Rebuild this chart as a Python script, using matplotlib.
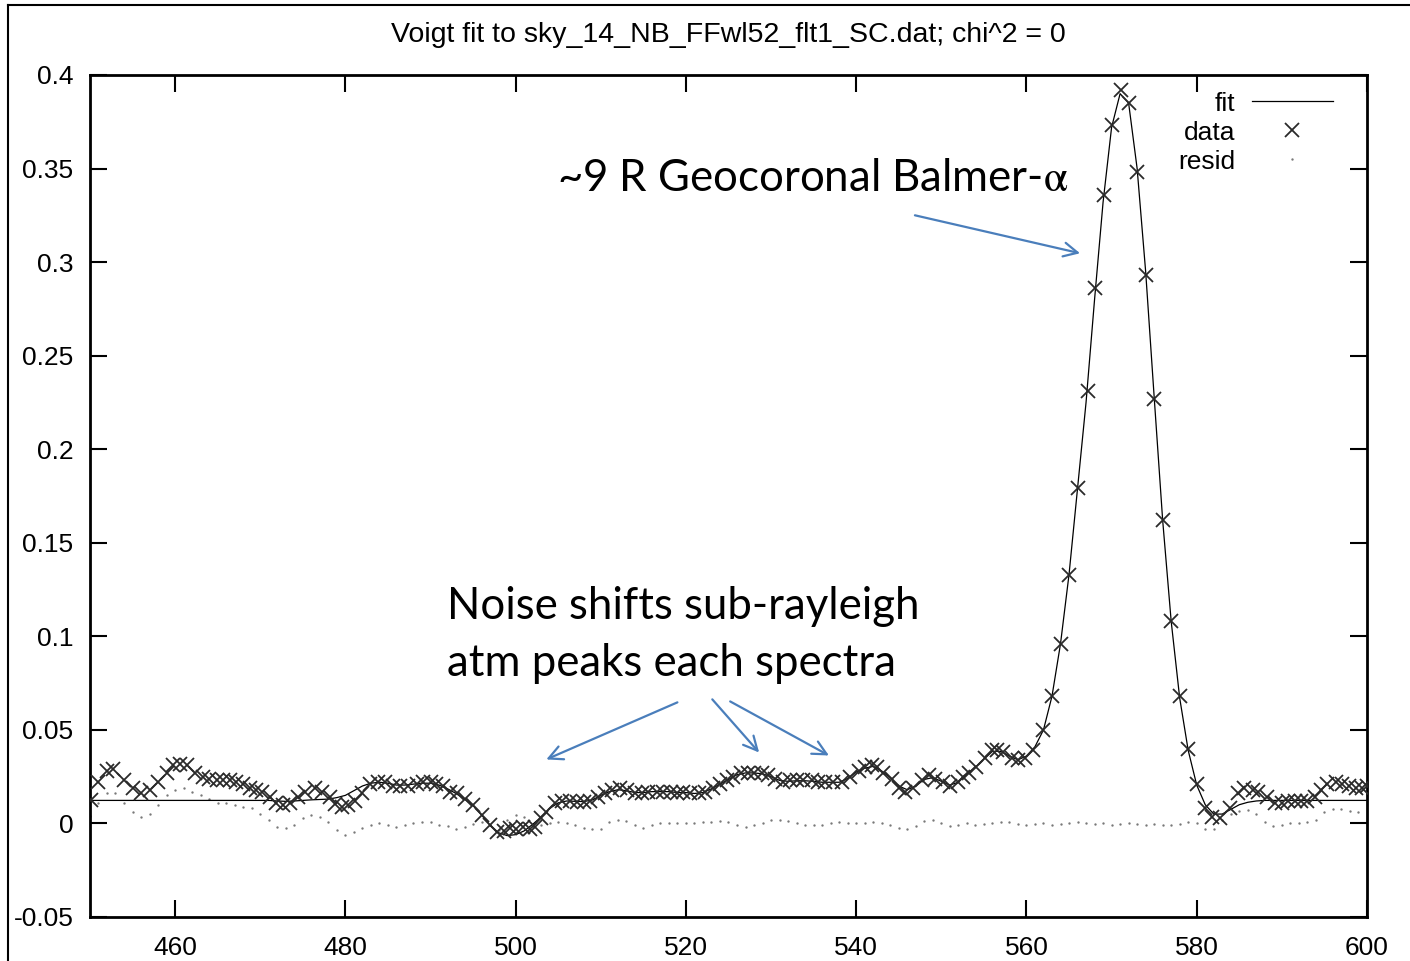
import numpy as np
import matplotlib
matplotlib.use('Agg')
import matplotlib.pyplot as plt
from matplotlib.lines import Line2D

plt.rcParams['font.family'] = ['Liberation Sans', 'DejaVu Sans']
plt.rcParams['mathtext.fontset'] = 'stix'

# measured spectrum (wavelength-ish channel, intensity)
data_x = [450.1, 451.0, 452.0, 452.7, 454.0, 455.0, 456.0, 457.0, 458.0, 459.0,
          459.8, 460.6, 461.4, 462.3, 463.3, 464.0, 464.9, 465.6, 466.4, 467.2,
          468.0, 468.8, 469.5, 470.2, 471.1, 471.9, 472.7, 473.5, 474.4, 475.3,
          476.4, 477.2, 478.2, 478.8, 479.6, 480.3, 481.1, 481.9, 482.9, 483.8,
          484.7, 485.6, 486.4, 487.4, 488.4, 489.1, 490.1, 490.7, 491.5, 492.3,
          493.1, 494.0, 495.0, 496.0, 497.0, 497.8, 498.6, 499.3, 500.1, 500.9,
          501.7, 502.3, 503.0, 503.6, 504.6, 505.4, 506.4, 507.2, 508.0, 508.7,
          509.7, 510.5, 511.3, 512.3, 513.1, 514.0, 514.8, 515.6, 516.6, 517.3,
          518.2, 518.9, 519.7, 520.5, 521.5, 522.3, 523.2, 524.0, 524.8, 525.5,
          526.5, 527.3, 528.0, 528.9, 529.6, 530.5, 531.4, 532.2, 533.0, 533.7,
          534.8, 535.5, 536.3, 537.3, 538.3, 539.3, 540.3, 541.0, 541.8, 542.4,
          543.2, 544.2, 545.0, 545.7, 546.7, 547.7, 548.5, 549.3, 550.2, 551.0,
          552.0, 552.6, 553.3, 554.1, 555.1, 555.9, 556.5, 557.3, 558.3, 559.0,
          559.8, 560.8, 562.0, 563.0, 564.0, 565.0, 566.0, 567.2, 568.1, 569.1,
          570.0, 571.1, 572.0, 573.0, 574.0, 575.0, 576.0, 577.0, 578.0, 579.0,
          580.0, 581.0, 581.8, 582.7, 583.9, 584.8, 585.6, 586.6, 587.2, 588.2,
          589.2, 590.0, 590.7, 591.5, 592.3, 593.0, 593.9, 594.6, 595.3, 596.4,
          597.1, 597.9, 598.7, 599.4, 600.0]
data_y = [0.0123, 0.022, 0.028, 0.029, 0.023, 0.019, 0.016, 0.018, 0.022, 0.027,
          0.031, 0.032, 0.031, 0.027, 0.025, 0.024, 0.023, 0.023, 0.023, 0.022,
          0.021, 0.019, 0.018, 0.017, 0.014, 0.011, 0.0096, 0.011, 0.014, 0.017,
          0.019, 0.017, 0.014, 0.0105, 0.0087, 0.0096, 0.012, 0.016, 0.021, 0.022,
          0.022, 0.020, 0.020, 0.020, 0.021, 0.022, 0.022, 0.021, 0.020, 0.017,
          0.016, 0.013, 0.0096, 0.0043, -0.001, -0.0047, -0.004, -0.0027, -0.003, -0.002,
          -0.003, -0.002, 0.0027, 0.006, 0.0107, 0.012, 0.012, 0.0114, 0.0114, 0.012,
          0.014, 0.016, 0.0176, 0.019, 0.0176, 0.016, 0.016, 0.017, 0.017, 0.017,
          0.017, 0.016, 0.017, 0.016, 0.016, 0.017, 0.019, 0.021, 0.023, 0.025,
          0.027, 0.027, 0.027, 0.027, 0.026, 0.024, 0.022, 0.023, 0.023, 0.023,
          0.023, 0.022, 0.022, 0.022, 0.022, 0.025, 0.028, 0.030, 0.031, 0.030,
          0.027, 0.024, 0.019, 0.017, 0.019, 0.023, 0.026, 0.024, 0.022, 0.020,
          0.022, 0.025, 0.027, 0.030, 0.035, 0.039, 0.039, 0.038, 0.035, 0.034,
          0.035, 0.039, 0.050, 0.068, 0.096, 0.133, 0.179, 0.231, 0.286, 0.336,
          0.373, 0.392, 0.385, 0.348, 0.293, 0.227, 0.162, 0.108, 0.068, 0.040,
          0.021, 0.008, 0.0034, 0.0027, 0.008, 0.016, 0.019, 0.0176, 0.017, 0.014,
          0.011, 0.011, 0.012, 0.012, 0.012, 0.012, 0.014, 0.0176, 0.021, 0.022,
          0.021, 0.020, 0.019, 0.019, 0.020]

# voigt fit curve
fit_x = list(range(450, 601))
fit_y = [0.0123] * 22 + [
    0.0120, 0.0118, 0.0120, 0.0123, 0.0126, 0.0128, 0.0130, 0.0138, 0.0150,
    0.0175, 0.0200, 0.0215, 0.0220, 0.0215, 0.0205, 0.0205, 0.0210, 0.0215,
    0.0215, 0.0205, 0.0185, 0.0160, 0.0130, 0.0095, 0.0045, -0.0010, -0.0050,
    -0.0065, -0.0060, -0.0040, -0.0005, 0.0035, 0.0080, 0.0110, 0.0120, 0.0118,
    0.0117, 0.0125, 0.0150, 0.0170, 0.0180, 0.0175, 0.0165, 0.0165, 0.0170,
    0.0170, 0.0170, 0.0165, 0.0165, 0.0160, 0.0165, 0.0185, 0.0210, 0.0235,
    0.0260, 0.0270, 0.0270, 0.0265, 0.0250, 0.0230, 0.0225, 0.0228, 0.0228,
    0.0225, 0.0220, 0.0220, 0.0220, 0.0240, 0.0275, 0.0295, 0.0305, 0.0280,
    0.0245, 0.0200, 0.0180, 0.0200, 0.0235, 0.0245, 0.0225, 0.0205, 0.0220,
    0.0265, 0.0300, 0.0345, 0.0385, 0.0385, 0.0360, 0.0340, 0.0360, 0.0410,
    0.0500, 0.0680, 0.0960, 0.1330, 0.1790, 0.2250, 0.2800, 0.3320, 0.3720,
    0.3900, 0.3850, 0.3500, 0.2950, 0.2280, 0.1620, 0.1080, 0.0670, 0.0390,
    0.0205, 0.0100, 0.0050, 0.0050, 0.0075, 0.0100, 0.0113, 0.0120] + [0.0123] * 13

# residuals
resid_x = list(range(450, 600))
resid_y = [0.004, 0.011, 0.016, 0.016, 0.011, 0.006, 0.0034, 0.0053, 0.0096, 0.015,
           0.0176, 0.019, 0.017, 0.015, 0.013, 0.0107, 0.0107, 0.0096, 0.0087, 0.008,
           0.0053, 0.0016, -0.002, -0.0027, -0.001, 0.0027, 0.0043, 0.0034, 0.0007, -0.0037,
           -0.0064, -0.0046, -0.0027, -0.001, 0.0, -0.001, -0.002, -0.001, 0.0002, 0.0007,
           0.0007, -0.001, -0.0016, -0.0028, -0.002, -0.0002, 0.0007, -0.001, -0.0037, 0.0016,
           0.0043, 0.0034, -0.002, -0.001, 0.0, 0.0007, 0.0, -0.001, -0.0023, -0.0028,
           -0.0028, 0.0007, 0.0016, 0.0012, -0.001, -0.0023, -0.001, 0.0002, 0.0002, 0.0,
           0.0002, 0.0002, 0.0007, 0.0007, 0.0012, 0.0007, -0.001, -0.002, -0.001, 0.0,
           0.0016, 0.002, 0.0012, 0.0002, -0.001, -0.001, -0.001, 0.0, 0.0007, 0.0002,
           0.0, 0.0002, 0.0007, 0.0, -0.001, -0.0023, -0.0028, -0.0016, 0.0012, 0.0016,
           0.0, -0.0016, -0.001, 0.0, -0.001, -0.0005, 0.0, 0.001, 0.0008, -0.0005,
           -0.001, -0.0005, 0.0, -0.001, -0.0005, 0.0, 0.0005, 0.0, -0.0005, 0.0,
           -0.001, -0.0005, 0.0, -0.0005, -0.001, -0.0005, -0.001, -0.001, -0.0005, 0.0007,
           0.0, -0.0028, -0.003, 0.0016, 0.0052, 0.0065, 0.007, 0.0052, 0.0007, -0.0016,
           -0.001, 0.0, 0.0, 0.0007, 0.002, 0.006, 0.0079, 0.0079, 0.0066, 0.006]

xticks = [460, 480, 500, 520, 540, 560, 580, 600]
yticks = [-0.05, 0, 0.05, 0.1, 0.15, 0.2, 0.25, 0.3, 0.35, 0.4]
ytick_labels = ['-0.05', '0', '0.05', '0.1', '0.15', '0.2', '0.25', '0.3', '0.35', '0.4']

fig = plt.figure(figsize=(14.1, 9.61), dpi=100)
ax = fig.add_axes([0.0638, 0.0458, 0.9057, 0.8762])

ax.plot(fit_x, fit_y, color='black', lw=0.9, zorder=3)
ax.plot(data_x, data_y, ls='none', marker='x', ms=10, mew=1.3, color='#2a2a2a', zorder=4)
ax.plot(resid_x, resid_y, ls='none', marker='.', ms=1.4, color='#777777', zorder=2)

ax.set_xlim(450, 600)
ax.set_ylim(-0.05, 0.4)
ax.set_xticks(xticks)
ax.set_yticks(yticks)
ax.set_yticklabels(ytick_labels)
ax.tick_params(direction='in', length=12, width=1.5, labelsize=19,
               top=True, right=True, pad=12)
ax.tick_params(axis='x', pad=14)
for s in ax.spines.values():
    s.set_linewidth(2)

ax.set_title('Voigt fit to sky_14_NB_FFwl52_flt1_SC.dat; chi^2 = 0', fontsize=20.5, pad=24)

# legend done by hand, gnuplot style (text right aligned, sample on right)
tr = ax.transAxes
ax.text(0.8966, 0.965, 'fit', transform=tr, ha='right', va='center', fontsize=19)
ax.text(0.8966, 0.931, 'data', transform=tr, ha='right', va='center', fontsize=19)
ax.text(0.8966, 0.897, 'resid', transform=tr, ha='right', va='center', fontsize=19)
ax.plot([0.910, 0.9734], [0.9685, 0.9685], transform=tr, color='black', lw=0.9)
ax.plot([0.9413], [0.9347], transform=tr, marker='x', ms=10, mew=1.3, color='#2a2a2a')
ax.plot([0.9413], [0.900], transform=tr, marker='.', ms=1.4, color='#777777')

# annotations
blue = '#4a7ebb'
afont = ['Lato', 'DejaVu Sans']
ax.text(504.9, 0.3447, r'~9 R Geocoronal Balmer-$\mathrm{\alpha}$', fontsize=31.5,
        family=afont, va='center', ha='left')
ax.text(491.9, 0.1160, 'Noise shifts sub-rayleigh', fontsize=31.5, family=afont,
        va='center', ha='left')
ax.text(491.9, 0.0855, 'atm peaks each spectra', fontsize=31.5, family=afont,
        va='center', ha='left')

arrows = [((546.9, 0.325), (566.3, 0.3047)),
          ((519.0, 0.0647), (503.6, 0.0342)),
          ((523.1, 0.0663), (528.6, 0.0379)),
          ((525.2, 0.0652), (536.8, 0.0363))]
for start, end in arrows:
    ax.annotate('', xy=end, xytext=start,
                arrowprops=dict(arrowstyle='->', color=blue, lw=1.6,
                                mutation_scale=25, shrinkA=0, shrinkB=0))

# outer frame lines of the screenshot
fig.add_artist(Line2D([0.0057, 1.0], [0.9948, 0.9948], transform=fig.transFigure,
                      color='black', lw=1.5))
fig.add_artist(Line2D([0.0057, 0.0057], [0.0, 0.9948], transform=fig.transFigure,
                      color='black', lw=1.5))

fig.savefig('out.png', dpi=100)
